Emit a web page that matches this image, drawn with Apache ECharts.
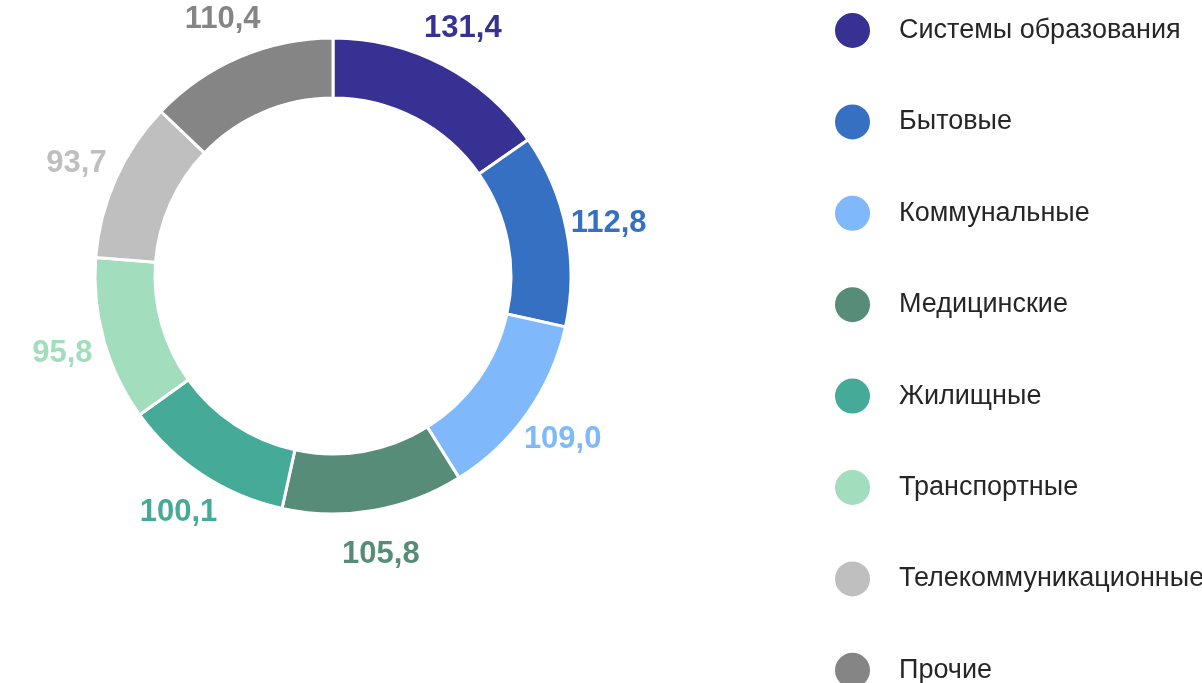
<!DOCTYPE html>
<html>
<head>
<meta charset="utf-8">
<script src="https://cdn.jsdelivr.net/npm/echarts@6/dist/echarts.min.js"></script>
<style>
  html, body { margin: 0; padding: 0; background: #fff; }
  #chart { width: 1202px; height: 683px; }
</style>
</head>
<body>
<div id="chart"></div>
<script>
const categories = ['Системы образования', 'Бытовые', 'Коммунальные', 'Медицинские', 'Жилищные', 'Транспортные', 'Телекоммуникационные', 'Прочие']
const values = [131.4, 112.8, 109.0, 105.8, 100.1, 95.8, 93.7, 110.4]
const colors = ['#373194', '#3670c2', '#7fb9fb', '#578c78', '#45aa98', '#a2ddbd', '#bfbfbf', '#858585']

const chart = echarts.init(document.getElementById('chart'))

const fmt = v => v.toFixed(1).replace('.', ',')

const option = {
  color: colors,
  animation: false,
  legend: {
    orient: 'vertical',
    left: 828,
    top: 6,
    height: 720,
    icon: 'circle',
    itemWidth: 37,
    itemHeight: 37,
    itemGap: 52.4,
    data: categories,
    textStyle: {
      fontFamily: 'Arial',
      fontSize: 27,
      color: '#262626',
      padding: [0, 0, 0, 23]
    }
  },
  series: [
    {
      type: 'pie',
      center: [333, 276],
      radius: [178, 238],
      startAngle: 90,
      itemStyle: { borderColor: '#fff', borderWidth: 3 },
      label: { show: false },
      labelLine: { show: false },
      data: categories.map((name, i) => ({ name, value: values[i] }))
    },
    {
      // невидимое кольцо только для подписей значений
      type: 'pie',
      silent: true,
      center: [333, 278],
      radius: [268, 288],
      startAngle: 90,
      itemStyle: { color: 'rgba(0,0,0,0)' },
      label: {
        show: true,
        position: 'inside',
        fontFamily: 'Arial',
        fontSize: 31,
        fontWeight: 'bold',
        formatter: p => fmt(p.value)
      },
      labelLine: { show: false },
      data: categories.map((name, i) => ({
        name,
        value: values[i],
        label: { color: colors[i] }
      }))
    }
  ]
}

chart.setOption(option)
</script>
</body>
</html>
